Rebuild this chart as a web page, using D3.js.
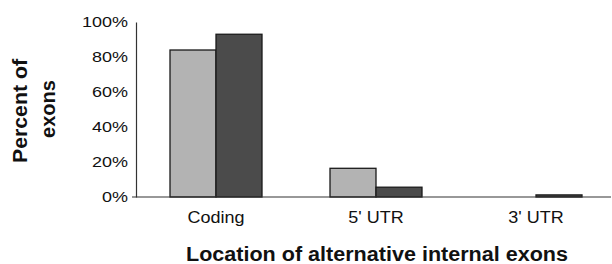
<!DOCTYPE html>
<html>
<head>
<meta charset="utf-8">
<script src="https://cdn.jsdelivr.net/npm/d3@7"></script>
<style>
  html, body { margin: 0; padding: 0; background: #fff; }
  svg { display: block; }
  text { font-family: "Liberation Sans", Arial, Helvetica, sans-serif; fill: #111; }
</style>
</head>
<body>
<svg id="chart" width="612" height="264"></svg>
<script>
// ---- data ----
const categories = ["Coding", "5' UTR", "3' UTR"];
const seriesNames = ["Series A", "Series B"];
const seriesA = [84, 16.4, 0];
const seriesB = [93, 5.6, 1.2];
const yTicks = [0, 20, 40, 60, 80, 100];
const yTickLabels = ["0%", "20%", "40%", "60%", "80%", "100%"];
const xTitle = "Location of alternative internal exons";
const yTitleLines = ["Percent of", "exons"];

const colors = ["#b3b3b3", "#4b4b4b"];

const svg = d3.select("#chart");

const x0 = d3.scaleBand().domain(categories).range([136, 616])
  .paddingInner(0.425).paddingOuter(0.2125);
const x1 = d3.scaleBand().domain(seriesNames).range([0, x0.bandwidth()]).padding(0);
const y = d3.scaleLinear().domain([0, 100]).range([197, 22]);

function fitWidth(sel, target) {
  sel.each(function () {
    const w = this.getComputedTextLength();
    const t = typeof target === "function" ? target(w) : target;
    d3.select(this).attr("textLength", t).attr("lengthAdjust", "spacingAndGlyphs");
  });
}

// bars
const rows = categories.map((c, i) => ({ cat: c, vals: [seriesA[i], seriesB[i]] }));
const g = svg.append("g");
g.selectAll("g.grp").data(rows).join("g")
  .attr("class", "grp")
  .attr("transform", d => `translate(${x0(d.cat)},0)`)
  .selectAll("rect")
  .data(d => d.vals.map((v, j) => ({ s: seriesNames[j], v, j })).filter(e => e.v > 0))
  .join("rect")
  .attr("x", d => x1(d.s))
  .attr("y", d => y(d.v))
  .attr("width", x1.bandwidth())
  .attr("height", d => y(0) - y(d.v))
  .attr("fill", d => colors[d.j])
  .attr("stroke", "#1a1a1a")
  .attr("stroke-width", 1.3);

// y axis (line only)
const yAxis = d3.axisLeft(y).tickValues(yTicks).tickSize(0).tickPadding(8)
  .tickFormat((d, i) => yTickLabels[i]);
const ya = svg.append("g").attr("transform", "translate(136,0)").call(yAxis);
ya.select(".domain").attr("stroke", "#333").attr("stroke-width", 1.2);
ya.selectAll("text").attr("font-size", 15).attr("fill", "#111")
  .attr("font-family", "Liberation Sans, Arial, sans-serif");
// scale labels horizontally
let tickFactor = 1;
ya.selectAll("text").filter((d, i) => i === yTicks.length - 1).each(function () {
  tickFactor = 46 / this.getComputedTextLength();
});
fitWidth(ya.selectAll("text"), w => w * tickFactor);

// x axis baseline
svg.append("line")
  .attr("x1", 132).attr("x2", 611)
  .attr("y1", y(0)).attr("y2", y(0))
  .attr("stroke", "#333").attr("stroke-width", 1.2);

// category labels
const catText = svg.append("g").selectAll("text").data(categories).join("text")
  .attr("x", d => x0(d) + x0.bandwidth() / 2)
  .attr("y", 223)
  .attr("text-anchor", "middle")
  .attr("font-size", 16)
  .text(d => d);
let catFactor = 1;
catText.filter((d, i) => i === 0).each(function () { catFactor = 57 / this.getComputedTextLength(); });
fitWidth(catText, w => w * catFactor);

// x title
const xt = svg.append("text")
  .attr("x", 377).attr("y", 261)
  .attr("text-anchor", "middle")
  .attr("font-size", 20).attr("font-weight", "bold")
  .text(xTitle);
fitWidth(xt, 382);

// y title
const ytPos = [{ x: 26.5, y: 111, len: 104 }, { x: 55, y: 109, len: 58 }];
yTitleLines.forEach((line, i) => {
  const t = svg.append("text")
    .attr("transform", `translate(${ytPos[i].x},${ytPos[i].y}) rotate(-90)`)
    .attr("text-anchor", "middle")
    .attr("font-size", 20).attr("font-weight", "bold")
    .text(line);
  fitWidth(t, ytPos[i].len);
});
</script>
</body>
</html>
